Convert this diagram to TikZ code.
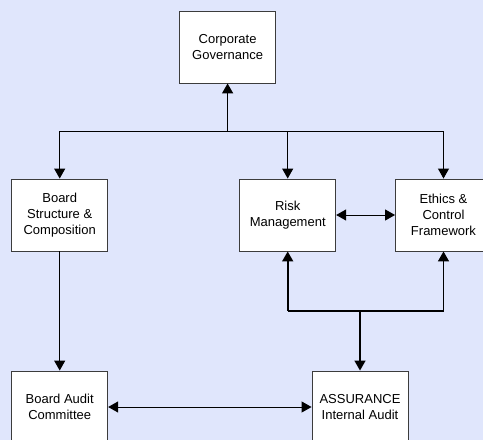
\documentclass[tikz,border=0pt]{standalone}
\usepackage{fontspec}
\setmainfont{Liberation Sans}
\usetikzlibrary{arrows.meta}
\definecolor{bgcol}{RGB}{224,230,252}
\definecolor{boxline}{RGB}{60,60,60}
\tikzset{
  tip/.tip={Triangle[width=11pt,length=10pt]},
  box/.style={draw=boxline, line width=0.9pt, fill=white, minimum width=96pt, minimum height=72pt, inner sep=0pt, align=center, font=\fontsize{13}{16}\selectfont},
  conn/.style={draw=black, line width=1pt, -tip},
  dconn/.style={draw=black, line width=1pt, tip-tip},
  plain/.style={draw=black, line width=1pt},
  thickconn/.style={draw=black, line width=1.6pt, -tip},
  thickplain/.style={draw=black, line width=1.6pt}
}
\begin{document}
\begin{tikzpicture}[x=1pt,y=-1pt]
\fill[bgcol] (0,0) rectangle (483,440);
\useasboundingbox (0,0) rectangle (483,440);
\clip (0,0) rectangle (483,440);
\node[box] (cg) at (227.6,47) {Corporate\\Governance};
\node[box] (bs) at (59.7,215) {Board\\Structure \&\\Composition};
\node[box] (rm) at (287.7,215) {Risk\\Management};
\node[box] (ef) at (443.5,215) {Ethics \&\\Control\\Framework};
\node[box] (ba) at (59.7,407) {Board Audit\\Committee};
\node[box] (as) at (360,407) {ASSURANCE\\Internal Audit};
\coordinate (jc) at (227.6,131);
\coordinate (jl) at (59.7,131);
\coordinate (jm) at (287.7,131);
\coordinate (jr) at (443.5,131);
\coordinate (bl) at (287.7,310.7);
\coordinate (bm) at (360,310.7);
\coordinate (br) at (443.5,310.7);
\draw[thickconn] (jc) -- (cg.south);
\draw[plain] (jl) -- (jr);
\draw[conn] (jl) -- (bs.north);
\draw[conn] (jm) -- (rm.north);
\draw[conn] (jr) -- (ef.north);
\draw[dconn] (rm.east) -- (ef.west);
\draw[thickplain] (bl) -- (br);
\draw[thickconn] (bl) -- (rm.south);
\draw[thickconn] (br) -- (ef.south);
\draw[thickconn] (bm) -- (as.north);
\draw[conn] (bs.south) -- (ba.north);
\draw[dconn] (ba.east) -- (as.west);
\end{tikzpicture}
\end{document}
